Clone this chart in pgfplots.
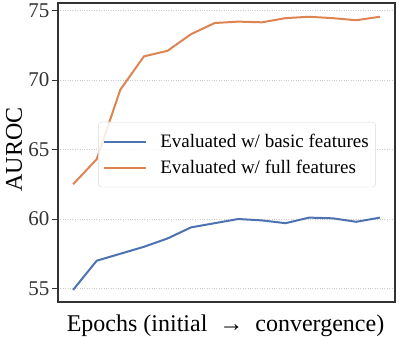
\documentclass[border=0pt]{standalone}
\usepackage{pgfplots}
\pgfplotsset{compat=1.18}
\usepackage{fontspec}
\setmainfont{Liberation Serif}
\definecolor{sbblue}{HTML}{4C72B0}
\definecolor{sborange}{HTML}{DD8452}
\definecolor{frame}{HTML}{333333}
\begin{document}
\begin{tikzpicture}
\begin{axis}[
  name=ax,
  scale only axis,
  width=337pt, height=299pt,
  xmin=-0.64, xmax=13.64,
  ymin=54.03, ymax=75.54,
  xtick=\empty,
  ytick={55,60,65,70,75},
  ymajorgrids,
  grid style={dotted, gray!40, line width=0.6pt},
  axis line style={frame, line width=1.2pt},
  tick style={frame, line width=1pt},
  ytick pos=left,
  tick align=outside,
  major tick length=6pt,
  /pgf/number format/assume math mode=true,
  yticklabel style={font=\fontsize{21}{21}\selectfont, text=frame, xshift=1pt},
  ylabel={AUROC},
  xlabel={Epochs (initial ~→~ convergence)},
  label style={font=\fontsize{24}{24}\selectfont, text=black},
  ylabel style={at={(axis description cs:-0.107,0.51)}, anchor=base},
  xlabel style={at={(axis description cs:0.497,-0.097)}, anchor=base},
  legend style={at={(0.119,0.602)}, anchor=north west, draw=gray!30, fill=white, fill opacity=0.85, text opacity=1,
    rounded corners=3pt, font=\fontsize{19}{19}\selectfont, inner xsep=5pt, inner ysep=10pt, row sep=7pt, column sep=11pt},
  legend cell align=left,
  legend image code/.code={\draw[#1, line width=2pt] (0pt,0pt) -- (42pt,0pt);},
]
\addplot[sbblue, line width=2pt] coordinates {
(0,54.9) (1,57.0) (2,57.5) (3,58.0) (4,58.6) (5,59.4) (6,59.7) (7,60.0) (8,59.9) (9,59.7) (10,60.1) (11,60.05) (12,59.8) (13,60.1)};
\addlegendentry{Evaluated w/ basic features}
\addplot[sborange, line width=2pt] coordinates {
(0,62.5) (1,64.3) (2,69.3) (3,71.7) (4,72.1) (5,73.3) (6,74.1) (7,74.2) (8,74.15) (9,74.45) (10,74.55) (11,74.45) (12,74.3) (13,74.55)};
\addlegendentry{Evaluated w/ full features\rule[-13pt]{0pt}{1pt}}
\end{axis}
\pgfresetboundingbox
\useasboundingbox ([shift={(-58pt,-35pt)}]ax.south west) rectangle ([shift={(4pt,3pt)}]ax.north east);
\end{tikzpicture}
\end{document}
